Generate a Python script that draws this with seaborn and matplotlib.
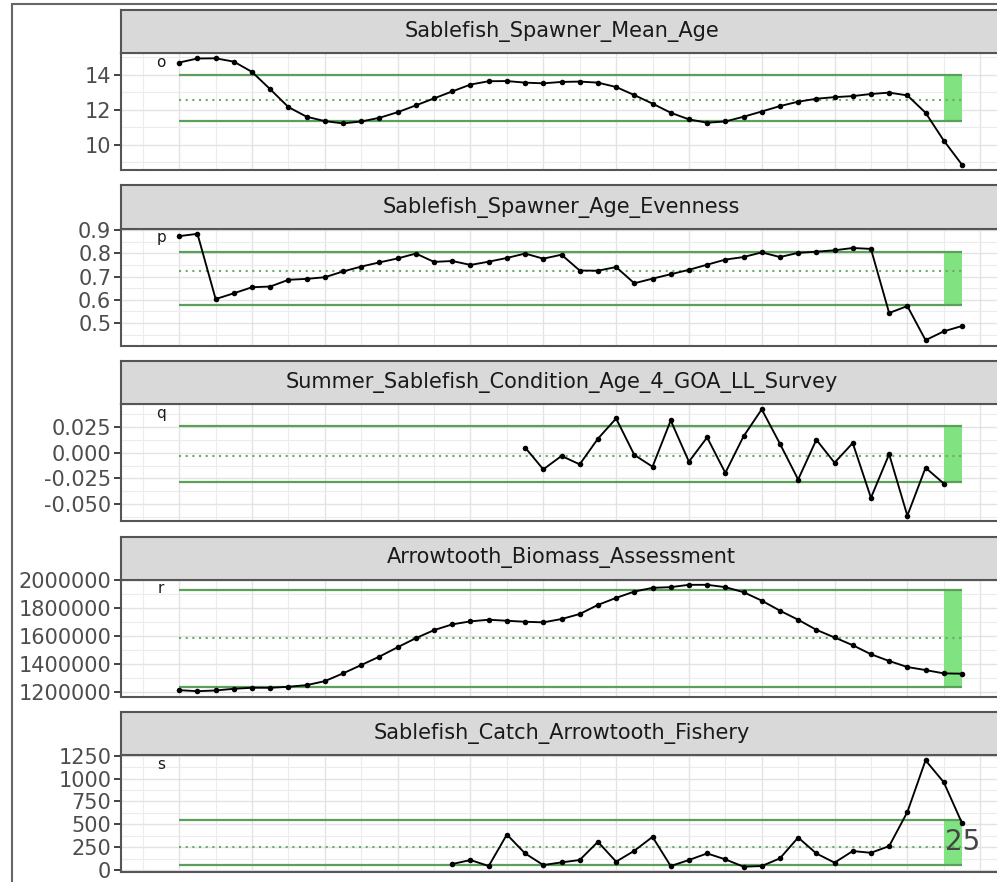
import pandas as pd
import seaborn as sns
import matplotlib.pyplot as plt
from matplotlib.ticker import MultipleLocator, FuncFormatter
from matplotlib.lines import Line2D

# values
years = list(range(1977, 2021))

indicators = [
    "Sablefish_Spawner_Mean_Age",
    "Sablefish_Spawner_Age_Evenness",
    "Summer_Sablefish_Condition_Age_4_GOA_LL_Survey",
    "Arrowtooth_Biomass_Assessment",
    "Sablefish_Catch_Arrowtooth_Fishery",
]
panel_letters = ["o", "p", "q", "r", "s"]

mean_age = [14.69, 14.92, 14.93, 14.74, 14.15, 13.16, 12.14, 11.59, 11.34, 11.21,
            11.32, 11.53, 11.85, 12.24, 12.64, 13.04, 13.43, 13.62, 13.63, 13.54,
            13.50, 13.58, 13.60, 13.54, 13.29, 12.83, 12.34, 11.82, 11.44, 11.25,
            11.32, 11.59, 11.89, 12.20, 12.45, 12.62, 12.71, 12.77, 12.89, 12.97,
            12.81, 11.82, 10.23, 8.85]

age_evenness = [0.874, 0.884, 0.603, 0.628, 0.654, 0.657, 0.686, 0.690, 0.697, 0.722,
                0.743, 0.761, 0.778, 0.799, 0.763, 0.767, 0.750, 0.764, 0.780, 0.799,
                0.777, 0.794, 0.726, 0.725, 0.741, 0.671, 0.691, 0.710, 0.729, 0.751,
                0.773, 0.784, 0.804, 0.784, 0.802, 0.807, 0.813, 0.823, 0.819, 0.543,
                0.573, 0.426, 0.464, 0.487]

condition_years = list(range(1996, 2020))
condition = [0.0052, -0.0161, -0.0030, -0.0112, 0.0138, 0.0336, -0.0020, -0.0135,
             0.0316, -0.0086, 0.0151, -0.0195, 0.0161, 0.0425, 0.0089, -0.0260,
             0.0128, -0.0096, 0.0096, -0.0438, -0.0013, -0.0613, -0.0145, -0.0299]

arrowtooth_biomass = [1211700, 1204500, 1209500, 1221700, 1228900, 1228900, 1236100,
                      1247600, 1276300, 1331700, 1391300, 1451700, 1518500, 1583200,
                      1640700, 1681700, 1703200, 1714700, 1707500, 1700300, 1696000,
                      1719700, 1755700, 1820400, 1870700, 1915900, 1942500, 1947500,
                      1964100, 1964100, 1947500, 1911600, 1851200, 1779400, 1714700,
                      1642800, 1588200, 1532900, 1468200, 1420100, 1377000, 1355400,
                      1331700, 1329500]

catch_years = list(range(1992, 2021))
catch_arrowtooth = [65, 109, 43, 388, 181, 54, 83, 109, 308, 91, 210, 362, 43, 109,
                    181, 116, 36, 43, 127, 355, 181, 80, 207, 188, 261, 634, 1200,
                    960, 514]

upper_lines = [14.0, 0.807, 0.0267, 1930000, 543]
mean_lines = [12.57, 0.725, -0.003, 1581000, 256]
lower_lines = [11.33, 0.578, -0.0284, 1233000, 54]

major_steps = [2, 0.1, 0.025, 200000, 250]
label_formats = ["{:.0f}", "{:.1f}", "{:.3f}", "{:.0f}", "{:.0f}"]

series = [
    (years, mean_age),
    (years, age_evenness),
    (condition_years, condition),
    (years, arrowtooth_biomass),
    (catch_years, catch_arrowtooth),
]

frames = []
for name, (yr, vals) in zip(indicators, series):
    frames.append(pd.DataFrame({"year": yr, "value": vals, "indicator": name}))
df = pd.concat(frames, ignore_index=True)

sns.set_theme(style="white")
plt.rcParams["font.family"] = ["DejaVu Sans"]

W, H = 997, 882
fig = plt.figure(figsize=(W / 100, H / 100), dpi=100)
fig.patch.set_facecolor("white")

# slide frame
fig.add_artist(Line2D([12 / W, 12 / W], [0, 1 - 4 / H], color="#666666", lw=1.5))
fig.add_artist(Line2D([12 / W, 1], [1 - 4 / H, 1 - 4 / H], color="#666666", lw=1.5))

left = 121 / W
width = (1002 - 121) / W
border = "#555555"

x_lo = years[0] - 1
x_hi = years[-1]
x_pad = 0.05 * (x_hi - x_lo)

for i, name in enumerate(indicators):
    top = 10 + 175.5 * i
    ax = fig.add_axes([left, 1 - (top + 160) / H, width, 117 / H])
    strip = fig.add_axes([left, 1 - (top + 43) / H, width, 43 / H])

    # strip
    strip.set_facecolor("#d9d9d9")
    strip.set_xticks([])
    strip.set_yticks([])
    for sp in strip.spines.values():
        sp.set_color(border)
        sp.set_linewidth(1.5)
    strip.text(0.5, 0.5, name, ha="center", va="center", fontsize=15,
               color="#1a1a1a", transform=strip.transAxes)

    sub = df[df["indicator"] == name]
    lo, mid, hi = lower_lines[i], mean_lines[i], upper_lines[i]

    # status band for the last year
    ax.fill_between(years[-2:], lo, hi, color="#80e280", lw=0, zorder=2)
    ax.hlines([hi, lo], years[0], years[-1], color="#5aa05a", lw=1.6, zorder=3)
    ax.hlines(mid, years[0], years[-1], color="#6aaa6a", lw=1.5,
              linestyles=(0, (1, 2.2)), zorder=3)

    sns.lineplot(data=sub, x="year", y="value", color="black", linewidth=1.35,
                 marker="o", markersize=4, markeredgewidth=0, ax=ax,
                 legend=False, zorder=5)

    ax.text(x_lo, 0.923, panel_letters[i], ha="center", va="center", fontsize=11,
            color="#1a1a1a", transform=ax.get_xaxis_transform())

    ax.set_xlim(x_lo - x_pad, x_hi + x_pad)
    ax.margins(y=0.05)
    ax.set_xlabel("")
    ax.set_ylabel("")

    step = major_steps[i]
    ax.yaxis.set_major_locator(MultipleLocator(step))
    ax.yaxis.set_minor_locator(MultipleLocator(step / 2))
    fmt = label_formats[i]
    ax.yaxis.set_major_formatter(
        FuncFormatter(lambda v, p, f=fmt: f.format(0.0 if abs(v) < 1e-12 else v)))
    ax.xaxis.set_major_locator(MultipleLocator(4, offset=1))
    ax.xaxis.set_minor_locator(MultipleLocator(2, offset=1))

    ax.grid(which="major", color="#e3e3e3", lw=1.0)
    ax.grid(which="minor", color="#ececec", lw=0.8)
    ax.set_axisbelow(True)

    ax.tick_params(axis="y", which="major", left=True, length=5, width=1.3,
                   color="#333333", labelsize=15, labelcolor="#4d4d4d", pad=2)
    ax.tick_params(axis="y", which="minor", left=False)
    ax.tick_params(axis="x", which="both", bottom=False, labelbottom=False)
    for sp in ax.spines.values():
        sp.set_color(border)
        sp.set_linewidth(1.5)

fig.text(963 / W, 1 - 842 / H, "25", ha="center", va="center", fontsize=20,
         color="#444444")

fig.savefig("out.png", dpi=100)
